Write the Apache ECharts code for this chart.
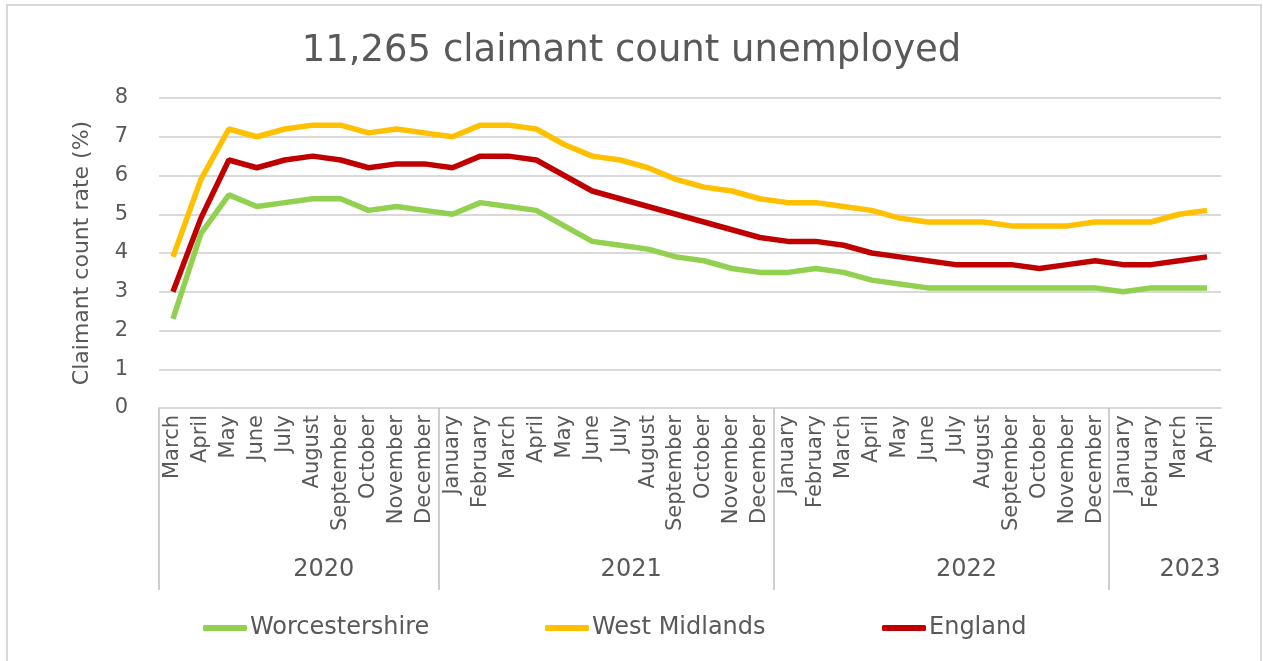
<!DOCTYPE html>
<html>
<head>
<meta charset="utf-8">
<script src="https://cdn.jsdelivr.net/npm/echarts@6/dist/echarts.min.js"></script>
<style>
  html, body { margin: 0; padding: 0; background: #fff; }
  #chart { width: 1263px; height: 661px; }
  #frame { position: absolute; left: 6px; top: 4px; width: 1252px; height: 670px;
           border: 2px solid #d9d9d9; pointer-events: none; }
</style>
</head>
<body>
<div id="chart"></div>
<div id="frame"></div>
<script>
// month categories, March 2020 .. April 2023
const months = [
  'March', 'April', 'May', 'June', 'July', 'August', 'September', 'October', 'November', 'December',
  'January', 'February', 'March', 'April', 'May', 'June', 'July', 'August', 'September', 'October', 'November', 'December',
  'January', 'February', 'March', 'April', 'May', 'June', 'July', 'August', 'September', 'October', 'November', 'December',
  'January', 'February', 'March', 'April'
];
const years = ['2020', '2021', '2022', '2023'];
const monthsInYear = [10, 12, 12, 4];

const worcestershire = [2.3, 4.5, 5.5, 5.2, 5.3, 5.4, 5.4, 5.1, 5.2, 5.1,
  5.0, 5.3, 5.2, 5.1, 4.7, 4.3, 4.2, 4.1, 3.9, 3.8, 3.6, 3.5,
  3.5, 3.6, 3.5, 3.3, 3.2, 3.1, 3.1, 3.1, 3.1, 3.1, 3.1, 3.1,
  3.0, 3.1, 3.1, 3.1];
const westMidlands = [3.9, 5.9, 7.2, 7.0, 7.2, 7.3, 7.3, 7.1, 7.2, 7.1,
  7.0, 7.3, 7.3, 7.2, 6.8, 6.5, 6.4, 6.2, 5.9, 5.7, 5.6, 5.4,
  5.3, 5.3, 5.2, 5.1, 4.9, 4.8, 4.8, 4.8, 4.7, 4.7, 4.7, 4.8,
  4.8, 4.8, 5.0, 5.1];
const england = [3.0, 4.9, 6.4, 6.2, 6.4, 6.5, 6.4, 6.2, 6.3, 6.3,
  6.2, 6.5, 6.5, 6.4, 6.0, 5.6, 5.4, 5.2, 5.0, 4.8, 4.6, 4.4,
  4.3, 4.3, 4.2, 4.0, 3.9, 3.8, 3.7, 3.7, 3.7, 3.6, 3.7, 3.8,
  3.7, 3.7, 3.8, 3.9];

// year group boundaries and centres on a 0..n scale
const yearStarts = [];
const yearCentres = [];
let acc = 0;
monthsInYear.forEach(function (n) {
  yearStarts.push(acc);
  yearCentres.push(acc + n / 2);
  acc += n;
});

const textColor = '#595959';
const font = 'DejaVu Sans';

function legendAt(name, left) {
  return {
    data: [name],
    left: left,
    top: 611,
    icon: 'roundRect',
    itemWidth: 44,
    itemHeight: 6,
    textStyle: { fontFamily: font, fontSize: 24, color: textColor, padding: [0, 0, 0, -2] }
  };
}

const myChart = echarts.init(document.getElementById('chart'));
myChart.setOption({
  animation: false,
  title: {
    text: '11,265 claimant count unemployed',
    left: 'center',
    top: 28,
    textStyle: { fontFamily: font, fontSize: 37, fontWeight: 'normal', color: textColor }
  },
  legend: [
    legendAt('Worcestershire', 198),
    legendAt('West Midlands', 540),
    legendAt('England', 877)
  ],
  grid: { left: 159, right: 42, top: 98, bottom: 253 },
  xAxis: [
    {
      type: 'category',
      data: months,
      boundaryGap: true,
      axisLine: { show: true, lineStyle: { color: '#d9d9d9', width: 2 } },
      axisTick: { show: false },
      axisLabel: {
        rotate: 90, interval: 0, margin: 7,
        fontFamily: font, fontSize: 21, color: textColor
      }
    },
    {
      type: 'value',
      position: 'bottom',
      min: 0,
      max: months.length,
      axisLine: { show: false },
      splitLine: { show: false },
      axisTick: {
        show: true, customValues: yearStarts, length: 182,
        lineStyle: { color: '#bfbfbf', width: 1.5 }
      },
      axisLabel: {
        customValues: yearCentres, margin: 150,
        padding: [0, 0, 0, 50],
        fontFamily: font, fontSize: 24, color: textColor,
        formatter: function (v) { return years[yearCentres.indexOf(v)]; }
      }
    }
  ],
  yAxis: {
    type: 'value',
    min: 0, max: 8, interval: 1,
    name: 'Claimant count rate (%)',
    nameLocation: 'middle',
    nameGap: 66,
    nameTextStyle: { fontFamily: font, fontSize: 22, color: textColor },
    axisLine: { show: false },
    axisTick: { show: false },
    axisLabel: { margin: 31, fontFamily: font, fontSize: 21, color: textColor },
    splitLine: { lineStyle: { color: '#d9d9d9', width: 2 } }
  },
  series: [
    { name: 'Worcestershire', type: 'line', data: worcestershire, symbol: 'none',
      color: '#92D050', lineStyle: { width: 5.5 } },
    { name: 'West Midlands', type: 'line', data: westMidlands, symbol: 'none',
      color: '#FFC000', lineStyle: { width: 5.5 } },
    { name: 'England', type: 'line', data: england, symbol: 'none',
      color: '#C00000', lineStyle: { width: 5.5 } }
  ]
});
</script>
</body>
</html>
